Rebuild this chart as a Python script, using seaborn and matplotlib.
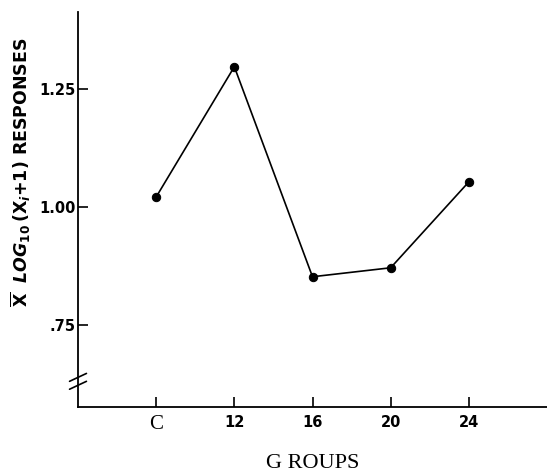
import matplotlib
matplotlib.use("Agg")
import matplotlib.pyplot as plt
import seaborn as sns
import pandas as pd

groups = ["C", "12", "16", "20", "24"]
responses = [1.021, 1.297, 0.852, 0.871, 1.053]
ytick_vals = [0.75, 1.00, 1.25]
ytick_labels = [".75", "1.00", "1.25"]

df = pd.DataFrame({"group": groups, "resp": responses})

sns.set_style("ticks")
plt.rcParams["font.family"] = ["DejaVu Sans"]
plt.rcParams["text.color"] = "black"
plt.rcParams["axes.labelcolor"] = "black"

fig = plt.figure(figsize=(5.47, 4.72), dpi=100)
ax = fig.add_axes([0.1426, 0.1377, 0.8574, 0.8369])

sns.lineplot(data=df, x="group", y="resp", ax=ax, color="black", linewidth=1.2,
             marker="o", markersize=6, markeredgecolor="black", sort=False)

ax.set_xlim(-1, 5)
ax.set_ylim(0.576, 1.413)
sns.despine(ax=ax)
ax.spines["left"].set_linewidth(1.3)
ax.spines["bottom"].set_linewidth(1.3)
ax.spines["left"].set_color("black")
ax.spines["bottom"].set_color("black")

ax.set_yticks(ytick_vals)
ax.set_yticklabels(ytick_labels, fontsize=10.5, fontweight="bold")
ax.set_xticks(range(len(groups)))
ax.set_xticklabels(groups, fontsize=10.5, fontweight="bold")
ax.get_xticklabels()[0].set_family("Liberation Serif")
ax.get_xticklabels()[0].set_fontsize(15)
ax.get_xticklabels()[0].set_fontweight("normal")
ax.tick_params(axis="both", direction="in", length=7, width=1.2, colors="black")
ax.tick_params(axis="x", pad=6)
ax.tick_params(axis="y", pad=2)

ax.set_xlabel("G ROUPS", fontsize=16, family="Liberation Serif", labelpad=14)
ax.set_ylabel(r"$\overline{\mathbf{X}}\ \ \mathbfit{LOG}_{\mathbf{10}}\,\mathbf{(X}_{\mathbfit{i}}\mathbf{+1)}$ RESPONSES",
              fontsize=12.5, fontweight="bold")
ax.yaxis.set_label_coords(-0.095, 0.595)

# axis break mark
for dy in (0.0, 0.02):
    ax.plot([-0.018, 0.018], [0.045 + dy, 0.065 + dy], transform=ax.transAxes,
            color="black", linewidth=1.2, clip_on=False)

fig.savefig("out.png", dpi=100)
